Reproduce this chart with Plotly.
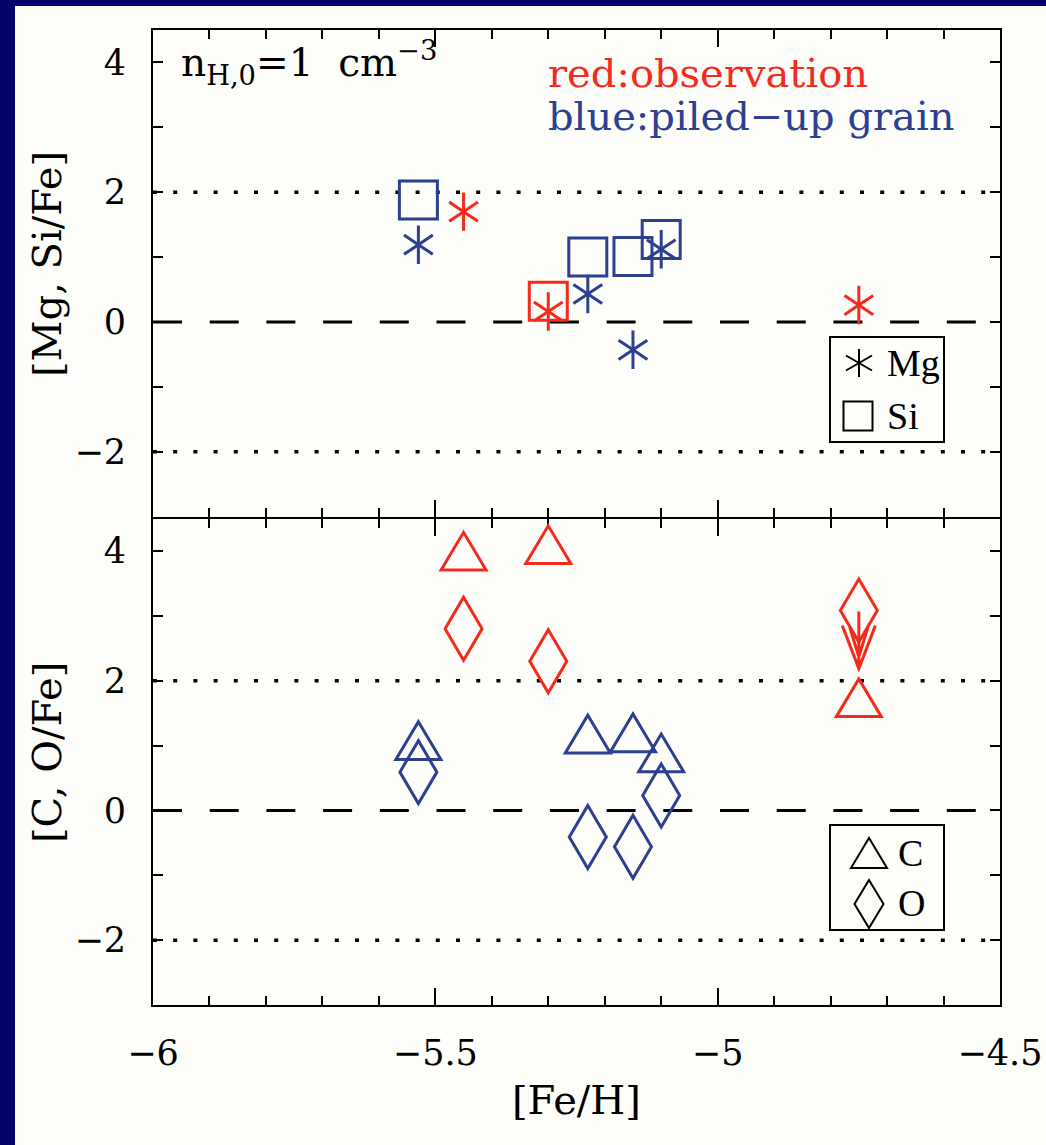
import plotly.graph_objects as go

# ---- observed hyper metal-poor stars (red) -------------------------------
obs_feh = [-5.45, -5.30, -4.75]
obs_mg = [1.70, 0.16, 0.26]
obs_si_feh = [-5.30]
obs_si = [0.32]
obs_c = [3.90, 4.00, 1.64]
obs_o = [2.80, 2.30, 3.08]
obs_o_upper = [False, False, True]

# ---- piled-up grain models (blue) ----------------------------------------
grain_feh = [-5.53, -5.23, -5.15, -5.10]
grain_mg = [1.19, 0.43, -0.43, 1.12]
grain_si = [1.88, 1.00, 1.01, 1.27]
grain_c = [0.98, 1.08, 1.10, 0.79]
grain_o = [0.59, -0.41, -0.56, 0.23]

# ---- guide levels and axes ------------------------------------------------
solar_levels = [0]
bound_levels = [-2, 2]
x_range = [-6, -4.5]
y_range = [-3, 4.5]
x_tickvals = [-6, -5.5, -5, -4.5]
x_ticktext = ["\u22126", "\u22125.5", "\u22125", "\u22124.5"]
y_tickvals = [-2, 0, 2, 4]
y_ticktext = ["\u22122", "0", "2", "4"]

RED = "#f32a1c"
BLUE = "#2d3f8e"
NAVY = "#03036b"
PAGE = "#fdfdf9"
SERIF = "DejaVu Serif"
LEGEND_FONT = "Liberation Serif"

W, H = 1046, 1145
ML, MR, MT, MB = 153, 46, 30, 140
PW, PH = W - ML - MR, H - MT - MB
GAP = 1.0 / PH  # lets the two panel frames share one middle line


def paper_x(px):
    return (px - ML) / PW


def paper_y(py):
    return (H - MB - py) / PH


fig = go.Figure()

# guide lines in both panels
for xa, ya in (("x2", "y"), ("x", "y2")):
    for lv in bound_levels:
        fig.add_trace(go.Scatter(x=x_range, y=[lv, lv], mode="lines", xaxis=xa, yaxis=ya,
                                 line=dict(color="black", width=3.5, dash="4px,16.2px"),
                                 hoverinfo="skip"))
    for lv in solar_levels:
        fig.add_trace(go.Scatter(x=x_range, y=[lv, lv], mode="lines", xaxis=xa, yaxis=ya,
                                 line=dict(color="black", width=3, dash="29px,27.7px"),
                                 hoverinfo="skip"))


def asterisk(xs, ys, color, xa, ya, size=24, lw=3):
    # six-armed asterisk built from an up-Y and a down-Y
    for sym in ("y-up-open", "y-down-open"):
        fig.add_trace(go.Scatter(x=xs, y=ys, mode="markers", xaxis=xa, yaxis=ya,
                                 marker=dict(symbol=sym, size=size, color=color,
                                             line=dict(color=color, width=lw))))


def squares(xs, ys, color, xa, ya, size=38, lw=3):
    fig.add_trace(go.Scatter(x=xs, y=ys, mode="markers", xaxis=xa, yaxis=ya,
                             marker=dict(symbol="square-open", size=size, color=color,
                                         line=dict(color=color, width=lw))))


# top panel: [Mg/Fe] and [Si/Fe]
squares(grain_feh, grain_si, BLUE, "x2", "y")
squares(obs_si_feh, obs_si, RED, "x2", "y")
asterisk(grain_feh, grain_mg, BLUE, "x2", "y")
asterisk(obs_feh, obs_mg, RED, "x2", "y")

shapes = []

# page area on the dark backdrop
shapes.append(dict(type="rect", xref="paper", yref="paper", layer="below",
                   x0=paper_x(15), x1=paper_x(W), y0=paper_y(H), y1=paper_y(6),
                   fillcolor=PAGE, line=dict(width=0)))

TRI = "M-22.5,-12.6 L22.5,-12.6 L0,25.1 Z"
DIA = "M0,31.5 L18.5,0 L0,-31.5 L-18.5,0 Z"
ARROW = "M0,-1 L0,-58 M-16.5,-15 L0,-58 L16.5,-15 M-9,-17 L0,-46 L9,-17"


def glyph(path, x, y, color, xref, yref, lw=3):
    return dict(type="path", path=path, xref=xref, yref=yref,
                xsizemode="pixel", ysizemode="pixel", xanchor=x, yanchor=y,
                line=dict(color=color, width=lw), fillcolor="rgba(0,0,0,0)", layer="above")


# bottom panel: [C/Fe] triangles and [O/Fe] diamonds
for x, y in zip(grain_feh, grain_c):
    shapes.append(glyph(TRI, x, y, BLUE, "x", "y2"))
for x, y in zip(grain_feh, grain_o):
    shapes.append(glyph(DIA, x, y, BLUE, "x", "y2"))
for x, y in zip(obs_feh, obs_c):
    shapes.append(glyph(TRI, x, y, RED, "x", "y2"))
for x, y, up in zip(obs_feh, obs_o, obs_o_upper):
    shapes.append(glyph(DIA, x, y, RED, "x", "y2"))
    if up:
        shapes.append(glyph(ARROW, x, y, RED, "x", "y2"))

# legend boxes
for yb, yt in ((paper_y(442), paper_y(337)), (paper_y(930), paper_y(825))):
    shapes.append(dict(type="rect", xref="paper", yref="paper", layer="above",
                       x0=paper_x(830), x1=paper_x(944), y0=yb, y1=yt,
                       line=dict(color="black", width=2), fillcolor="rgba(0,0,0,0)"))

LEG_AST = "M0,14 L0,-14 M-13,7.5 L13,-7.5 M-13,-7.5 L13,7.5"
LEG_SQ = "M-14.5,-14.5 L14.5,-14.5 L14.5,14.5 L-14.5,14.5 Z"
LEG_TRI = "M-18,-10 L18,-10 L0,20 Z"
LEG_DIA = "M0,24 L14.5,0 L0,-24 L-14.5,0 Z"
for path, px, py in ((LEG_AST, 859, 363), (LEG_SQ, 858, 416),
                     (LEG_TRI, 869, 858), (LEG_DIA, 869, 904)):
    shapes.append(glyph(path, paper_x(px), paper_y(py), "black", "paper", "paper", lw=2))

annotations = []


def note(text, px, py, size, color="black", family=SERIF, xanchor="left", angle=0):
    annotations.append(dict(text=text, x=paper_x(px), y=paper_y(py), xref="paper", yref="paper",
                            xanchor=xanchor, yanchor="middle", showarrow=False, textangle=angle,
                            font=dict(family=family, size=size, color=color)))


note("n<sub>H,0</sub>=1\u00a0 cm<sup>\u22123</sup>", 179, 63, 39)
note("red:observation", 546, 73, 40, RED)
note("blue:piled\u2212up grain", 546, 116, 40, BLUE)
note("Mg", 885, 363, 38, family=LEGEND_FONT)
note("Si", 885, 416, 38, family=LEGEND_FONT)
note("C", 896, 853, 38, family=LEGEND_FONT)
note("O", 896, 903, 38, family=LEGEND_FONT)
note("[Mg, Si/Fe]", 47, 264, 40, xanchor="center", angle=-90)
note("[C, O/Fe]", 47, 752, 40, xanchor="center", angle=-90)
note("[Fe/H]", 576, 1100, 40, xanchor="center")

axis_line = dict(showline=True, linewidth=2, linecolor="black", mirror="allticks",
                 showgrid=False, zeroline=False, ticks="inside", tickcolor="black", tickwidth=2)
tick_font = dict(family=SERIF, size=35, color="black")
x_common = dict(axis_line, range=x_range, tickmode="array", tickvals=x_tickvals,
                ticklen=17,
                minor=dict(dtick=0.1, tick0=-6, ticks="inside", ticklen=9, tickwidth=2,
                           tickcolor="black"))
y_common = dict(axis_line, range=y_range, tickmode="array", tickvals=y_tickvals,
                ticktext=y_ticktext, ticklen=10, tickfont=tick_font, ticklabelstandoff=18,
                minor=dict(dtick=1, tick0=-3, ticks="inside", ticklen=10, tickwidth=2,
                           tickcolor="black"))

fig.update_layout(
    width=W, height=H,
    margin=dict(l=ML, r=MR, t=MT, b=MB, autoexpand=False),
    paper_bgcolor=NAVY, plot_bgcolor="rgba(0,0,0,0)",
    showlegend=False,
    xaxis=dict(x_common, anchor="y2", domain=[0, 1], ticktext=x_ticktext,
               tickfont=tick_font, ticklabelstandoff=16),
    xaxis2=dict(x_common, anchor="y", domain=[0, 1], matches="x", showticklabels=False),
    yaxis=dict(y_common, anchor="x2", domain=[0.5 + GAP, 1]),
    yaxis2=dict(y_common, anchor="x", domain=[0, 0.5 - GAP]),
    shapes=shapes,
    annotations=annotations,
)

fig.write_html("out.html")
